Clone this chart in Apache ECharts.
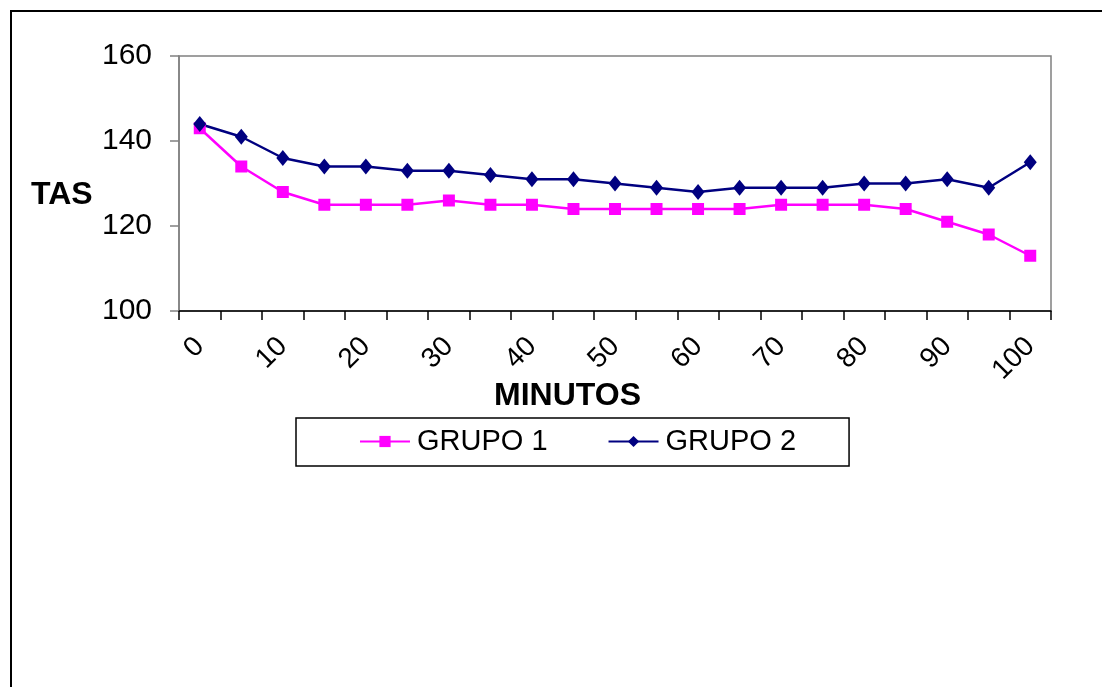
<!DOCTYPE html>
<html style="height: 100%;width:100%">

<head>
    <meta charset="utf-8">
    <style>
        html,
        body {
            margin: 0;
            padding: 0;
            width: 100%;
            height: 100%;
            background: #fff;
        }

        #chart-panel {
            width: 1102px;
            height: 687px;
        }
    </style>
</head>

<body>
    <div id="chart-panel"></div>
    <script type="text/javascript" src="https://cdn.jsdelivr.net/npm/echarts@6/dist/echarts.min.js"></script>
    <script type="text/javascript">
        // minutos 0..100, de 5 em 5
        var minutos = ['0', '5', '10', '15', '20', '25', '30', '35', '40', '45', '50',
            '55', '60', '65', '70', '75', '80', '85', '90', '95', '100'];
        var grupo1 = [143, 134, 128, 125, 125, 125, 126, 125, 125, 124, 124,
            124, 124, 124, 125, 125, 125, 124, 121, 118, 113];
        var grupo2 = [144, 141, 136, 134, 134, 133, 133, 132, 131, 131, 130,
            129, 128, 129, 129, 129, 130, 130, 131, 129, 135];
        var yTicks = { min: 100, max: 160, interval: 20 };

        var dom = document.getElementById('chart-panel');
        var myChart = echarts.init(dom);

        var font = 'Arial, "Liberation Sans", sans-serif';

        var option = {
            animation: false,
            textStyle: { fontFamily: font },
            grid: {
                left: 179,
                right: 51,
                top: 56,
                bottom: 376,
                show: true,
                borderColor: '#808080',
                borderWidth: 1.5
            },
            graphic: [
                {
                    type: 'rect',
                    shape: { x: 11, y: 11, width: 1100, height: 700 },
                    style: { fill: null, stroke: '#000', lineWidth: 2 }
                },
                {
                    type: 'text',
                    left: 31,
                    top: 179,
                    style: { text: 'TAS', font: 'bold 32px ' + font, fill: '#000' }
                },
                {
                    type: 'text',
                    left: 494,
                    top: 380,
                    style: { text: 'MINUTOS', font: 'bold 32px ' + font, fill: '#000' }
                }
            ],
            legend: {
                left: 296,
                top: 418,
                padding: [9, 53, 10, 63],
                itemWidth: 50,
                itemHeight: 14,
                itemGap: 60,
                borderColor: '#000',
                borderWidth: 1.5,
                textStyle: { fontSize: 29, color: '#000', fontFamily: font, padding: [0, 0, 0, 2] },
                data: ['GRUPO 1', 'GRUPO 2']
            },
            xAxis: {
                type: 'category',
                data: minutos,
                boundaryGap: true,
                axisLine: { lineStyle: { color: '#000', width: 1.5 } },
                axisTick: { show: true, interval: 0, length: 9, inside: false, lineStyle: { color: '#000', width: 1.5 } },
                axisLabel: {
                    interval: 1,
                    rotate: 45,
                    margin: 31,
                    fontSize: 28,
                    color: '#000',
                    fontFamily: font
                },
                splitLine: { show: false }
            },
            yAxis: {
                type: 'value',
                min: yTicks.min,
                max: yTicks.max,
                interval: yTicks.interval,
                axisLine: { show: true, lineStyle: { color: '#808080', width: 1.5 } },
                axisTick: { show: true, length: 9, lineStyle: { color: '#808080', width: 1.5 } },
                axisLabel: { margin: 27, fontSize: 30, color: '#000', fontFamily: font },
                splitLine: { show: false }
            },
            series: [
                {
                    name: 'GRUPO 1',
                    type: 'line',
                    data: grupo1,
                    symbol: 'rect',
                    symbolSize: 12,
                    color: '#ff00ff',
                    lineStyle: { width: 2.5, color: '#ff00ff' },
                    itemStyle: { color: '#ff00ff' }
                },
                {
                    name: 'GRUPO 2',
                    type: 'line',
                    data: grupo2,
                    symbol: 'diamond',
                    symbolSize: [13, 16],
                    color: '#000080',
                    lineStyle: { width: 2.5, color: '#000080' },
                    itemStyle: { color: '#000080' }
                }
            ]
        };

        myChart.setOption(option);
        window.addEventListener('resize', function () {
            myChart.resize()
        })
    </script>
</body>

</html>
